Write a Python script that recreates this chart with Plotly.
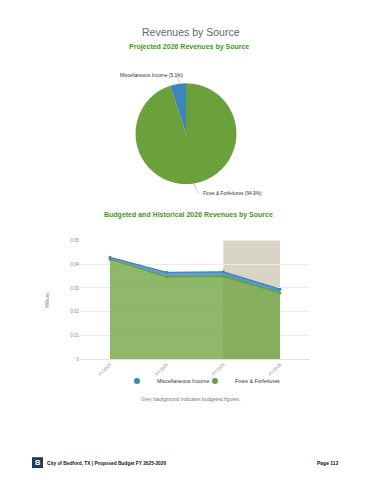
import plotly.graph_objects as go

W, H = 370, 480

pie_labels = ["Miscellaneous Income", "Fines & Forfeitures"]
pie_values = [5.1, 94.9]

years = ["FY2023", "FY2024", "FY2025", "FY2026"]
misc_income = [0.0008, 0.0019, 0.0019, 0.0016]
fines = [0.0421, 0.0347, 0.0349, 0.0279]
budgeted_years = ["FY2025", "FY2026"]

y_ticks = [0, 0.01, 0.02, 0.03, 0.04, 0.05]
y_tick_text = ["0", "0.01", "0.02", "0.03", "0.04", "0.05"]

BLUE = "#3f86b8"
GREEN = "#62a035"

def px(x):
    return x / W

def py(y):
    return 1 - y / H

fig = go.Figure()

misc_share = pie_values[0] / sum(pie_values)
fig.add_trace(go.Pie(
    labels=pie_labels, values=pie_values, sort=False, direction="clockwise",
    rotation=-360 * misc_share, marker=dict(colors=[BLUE, "#6aa13b"], line=dict(width=0)),
    textinfo="none", hoverinfo="label+percent", showlegend=False,
    domain=dict(x=[px(135), px(237)], y=[py(184), py(82)]),
))

fig.add_trace(go.Scatter(
    x=years, y=fines, name="Fines & Forfeitures", stackgroup="one", mode="lines+markers",
    line=dict(color=GREEN, width=1.2), marker=dict(size=3, color=GREEN),
    fillcolor="rgba(106,160,58,0.75)", showlegend=False,
))
fig.add_trace(go.Scatter(
    x=years, y=misc_income, name="Miscellaneous Income", stackgroup="one", mode="lines+markers",
    line=dict(color=BLUE, width=1.3), marker=dict(size=3, color=BLUE),
    fillcolor="rgba(63,134,184,0.8)", showlegend=False,
))
# legend entries (circle markers)
fig.add_trace(go.Scatter(x=[None], y=[None], mode="markers", name="Miscellaneous Income",
                         marker=dict(size=6, color=BLUE), legend="legend"))
fig.add_trace(go.Scatter(x=[None], y=[None], mode="markers", name="Fines & Forfeitures",
                         marker=dict(size=6, color="#6aa13b"), legend="legend2"))

shapes = [
    dict(type="rect", xref="x", yref="y domain", x0=budgeted_years[0], x1=budgeted_years[-1],
         y0=0, y1=1, fillcolor="#d9d5c6", line=dict(width=0), layer="below"),
    dict(type="path", xref="paper", yref="paper",
         path=f"M {px(176)} {py(74)} Q {px(179)} {py(77)} {px(180)} {py(83)}",
         line=dict(color="#9ab", width=0.6)),
    dict(type="path", xref="paper", yref="paper",
         path=f"M {px(194)} {py(183)} Q {px(195)} {py(189)} {px(199)} {py(193)}",
         line=dict(color="#9ab", width=0.6)),
    dict(type="rect", xref="paper", yref="paper", x0=px(32), x1=px(43), y0=py(471), y1=py(460),
         fillcolor="#1f3b5e", line=dict(width=0)),
]

ann = [
    dict(text="Revenues by Source", x=0.515, y=py(30), font=dict(size=10.5, color="#666666")),
    dict(text="<b>Projected 2026 Revenues by Source</b>", x=0.51, y=py(45),
         font=dict(size=7, color="#3d9a1c")),
    dict(text="Miscellaneous Income (5.1%)", x=px(151), y=py(74), font=dict(size=4.8, color="#333333")),
    dict(text="Fines & Forfeitures (94.9%)", x=px(232), y=py(194), font=dict(size=4.8, color="#333333")),
    dict(text="<b>Budgeted and Historical 2026 Revenues by Source</b>", x=0.51, y=py(215),
         font=dict(size=7, color="#3d9a1c")),
    dict(text="Grey background indicates budgeted figures.", x=px(191), y=py(401),
         font=dict(size=5, color="#777777")),
    dict(text="<b>B</b>", x=px(37.5), y=py(465.5), font=dict(size=7.5, color="white")),
    dict(text="<b>City of Bedford, TX | Proposed Budget FY 2025-2026</b>", x=px(45), y=py(466),
         xanchor="left", font=dict(size=4.8, color="#111111")),
    dict(text="<b>Page 112</b>", x=px(341), y=py(466), xanchor="right",
         font=dict(size=5, color="#111111")),
]
for a in ann:
    a.setdefault("xanchor", "center")
    a.update(xref="paper", yref="paper", showarrow=False, yanchor="middle")

legend_common = dict(orientation="h", xanchor="left", y=py(383), yanchor="middle",
                     font=dict(size=5.3, color="#333333"), itemwidth=30,
                     bgcolor="rgba(0,0,0,0)")

fig.update_layout(
    width=W, height=H, margin=dict(l=0, r=0, t=0, b=0),
    paper_bgcolor="white", plot_bgcolor="white",
    font=dict(family="Liberation Sans, Arial, sans-serif"),
    shapes=shapes, annotations=ann,
    xaxis=dict(domain=[px(80), px(310)], type="category", range=[-0.53, 3.53],
               tickangle=-45, tickfont=dict(size=4.5, color="#888888"),
               showgrid=False, showline=True, linecolor="#e2e2e2", linewidth=1,
               ticks="", zeroline=False),
    yaxis=dict(domain=[py(361), py(241)], range=[0, 0.05], tickvals=y_ticks, ticktext=y_tick_text,
               tickfont=dict(size=4.5, color="#888888"), showgrid=True, gridcolor="#ececec",
               gridwidth=1, zeroline=False, showline=False, ticks="",
               title=dict(text="Millions", font=dict(size=4.5, color="#888888"), standoff=20)),
    legend=dict(x=px(117), **legend_common),
    legend2=dict(x=px(195), **legend_common),
    showlegend=True,
)

fig.write_html("out.html")
